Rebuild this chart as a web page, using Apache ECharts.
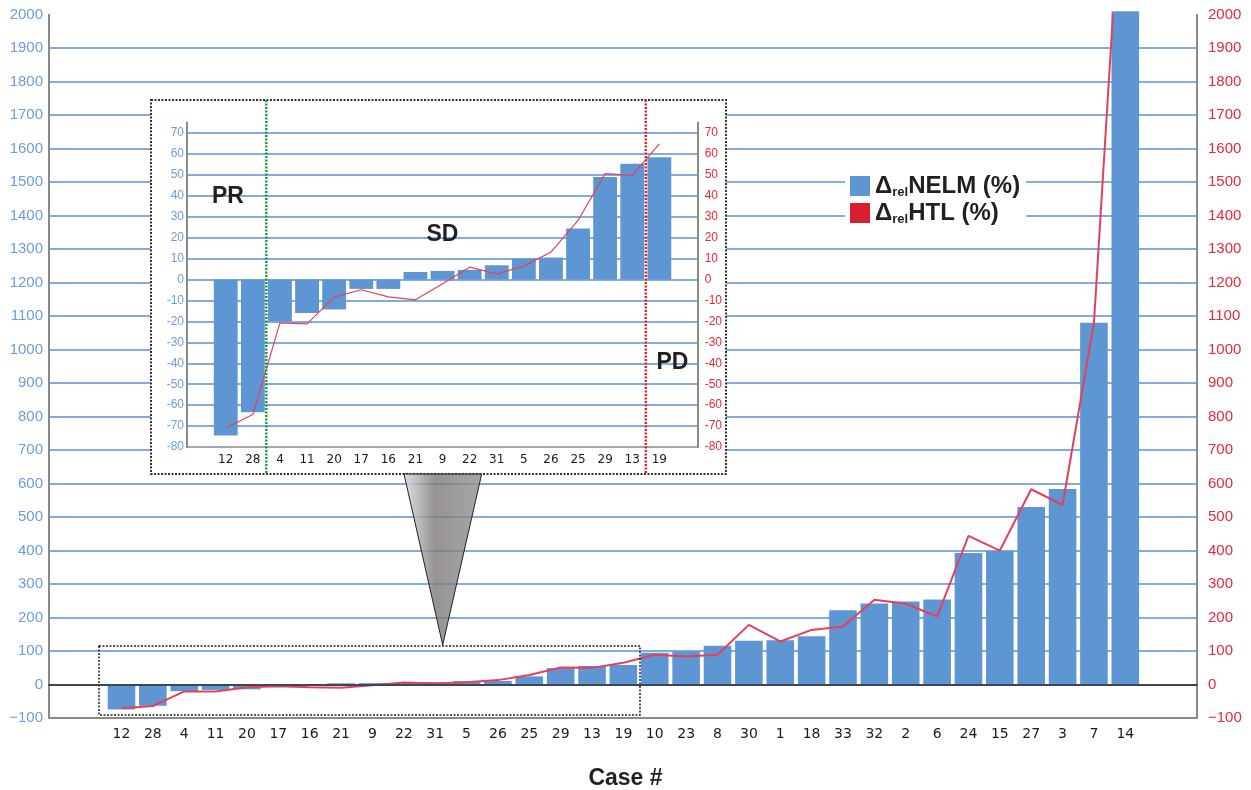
<!DOCTYPE html>
<html><head><meta charset="utf-8">
<script src="https://cdn.jsdelivr.net/npm/echarts@6.0.0/dist/echarts.min.js"></script>
<style>html,body{margin:0;padding:0;background:#fff}#c{width:1251px;height:790px}</style>
</head><body><div id="c"></div>
<script>
// ---- data ----
const cases = ['12','28','4','11','20','17','16','21','9','22','31','5','26','25','29','13','19','10','23','8','30','1','18','33','32','2','6','24','15','27','3','7','14'];
const nelm = [-74.5,-63.4,-20,-16,-14.3,-4.5,-4.5,3.6,4.1,4.6,6.8,10,10.5,24.4,49,55.3,58.4,95,99,116,131,132,144,222,242,248,254,393,399,530,584,1080,2010];
const htl = [-70.9,-64.5,-20.7,-21.2,-8.4,-4.9,-8.3,-9.7,-2,5.9,2.7,6.4,13.1,28.2,50.6,49.7,64.8,89,84,89,178,128.5,163,173,253,241,203,444,400,583,536,1080,2600];
const insetCount = 17;
const mainTicks = {min:-100, max:2000, step:100};
const insetTicks = {min:-80, max:75, step:10};

const insetCases = cases.slice(0, insetCount);
const insetNelm = nelm.slice(0, insetCount);
const insetHtl = htl.slice(0, insetCount);

const BLUE_LBL = '#6c9dd8', RED_LBL = '#e8283c', GRID_BLUE = '#80ace0', AXIS_GRAY = '#8a8a8a';
const BAR = '#5e96d3', LINE_RED = '#e5405a', LEG_RED = '#d81e30';
const SANS = 'Liberation Sans, Arial, sans-serif';

const chart = echarts.init(document.getElementById('c'), null, {renderer:'canvas'});

function yAx(grid, pos, t, color, split, fs, z, minus) {
  return {
    gridIndex: grid, type:'value', position: pos, min:t.min, max:t.max, interval:t.step, z: z,
    axisLine:{show:true, onZero:false, lineStyle:{color:AXIS_GRAY, width:2}},
    axisTick:{show:false},
    axisLabel:{color:color, fontSize:fs, fontFamily:SANS, margin: pos==='left' ? (fs>13?6:3) : (fs>13?11:7),
      showMaxLabel: t.max % t.step === 0,
      formatter: v => minus ? String(v).replace('-', '\u2212') : String(v)},
    splitLine: split ? {show:true, showMinLine:false, showMaxLine:false, lineStyle:{color:GRID_BLUE, width:2}} : {show:false}
  };
}

const option = {
  animation:false,
  backgroundColor:'#fff',
  title:{text:'Case #', left:'center', top:762, textStyle:{fontSize:23, fontWeight:'bold', fontFamily:SANS, color:'#231f20'}},
  legend:{
    orient:'vertical', left:845, top:169, padding:[5,6,5,5], itemWidth:20, itemHeight:20, itemGap:2,
    backgroundColor:'#fff', z:10, selectedMode:false,
    data:[{name:'NELM', icon:'rect', itemStyle:{color:BAR}}, {name:'HTL', icon:'rect', itemStyle:{color:LEG_RED}}],
    formatter: n => '{d|\u0394}{s|rel}{d|' + n + ' (%)}',
    textStyle:{rich:{
      d:{fontSize:24, fontWeight:'bold', fontFamily:SANS, color:'#231f20', lineHeight:26},
      s:{fontSize:13, fontWeight:'bold', fontFamily:SANS, color:'#231f20', lineHeight:13, verticalAlign:'bottom'}
    }}
  },
  grid:[
    {left:49, top:14.7, width:1148, height:703.3},
    {left:105.8, top:14.7, width:1035.2, height:703.3},
    {left:187, top:122.5, width:510.7, height:324.5},
    {left:212.2, top:122.5, width:460.7, height:324.5}
  ],
  xAxis:[
    {gridIndex:0, type:'value', min:0, max:1, position:'bottom', z:1,
     axisLine:{show:true, onZero:false, lineStyle:{color:AXIS_GRAY, width:2}}, axisTick:{show:false}, axisLabel:{show:false}, splitLine:{show:false}},
    {gridIndex:0, type:'value', min:0, max:1, position:'top', z:4,
     axisLine:{show:true, onZero:true, lineStyle:{color:'#3d4654', width:2}}, axisTick:{show:false}, axisLabel:{show:false}, splitLine:{show:false}},
    {gridIndex:1, type:'category', data:cases, position:'bottom', z:1,
     axisLine:{show:false, onZero:false}, axisTick:{show:false},
     axisLabel:{color:'#1a1a1a', fontSize:14, fontFamily:'DejaVu Sans', margin:9, interval:0}},
    {gridIndex:2, type:'value', min:0, max:1, position:'bottom', z:6,
     axisLine:{show:true, onZero:false, lineStyle:{color:AXIS_GRAY, width:1.5}}, axisTick:{show:false}, axisLabel:{show:false}, splitLine:{show:false}},
    {gridIndex:3, type:'category', data:insetCases, position:'bottom', z:6,
     axisLine:{show:false, onZero:false}, axisTick:{show:false},
     axisLabel:{color:'#1a1a1a', fontSize:12, fontFamily:'DejaVu Sans', margin:7, interval:0}}
  ],
  yAxis:[
    yAx(0,'left',mainTicks,BLUE_LBL,true,15,0,true),
    yAx(0,'right',mainTicks,RED_LBL,false,15,0,true),
    {gridIndex:1, type:'value', min:mainTicks.min, max:mainTicks.max, show:false},
    yAx(2,'left',insetTicks,BLUE_LBL,true,12,6,false),
    yAx(2,'right',insetTicks,RED_LBL,false,12,6,false),
    {gridIndex:3, type:'value', min:insetTicks.min, max:insetTicks.max, show:false}
  ],
  series:[
    {name:'NELM', type:'bar', xAxisIndex:2, yAxisIndex:2, data:nelm, barCategoryGap:'12%', clip:false, z:2,
     itemStyle:{color:BAR}},
    {name:'HTL', type:'line', xAxisIndex:2, yAxisIndex:2, data:htl, showSymbol:false, symbol:'none', z:3,
     itemStyle:{color:LEG_RED}, lineStyle:{color:LINE_RED, width:2}},
    {name:'insetNELM', type:'bar', xAxisIndex:4, yAxisIndex:5, data:insetNelm, barCategoryGap:'12%', z:7,
     itemStyle:{color:BAR}},
    {name:'insetHTL', type:'line', xAxisIndex:4, yAxisIndex:5, data:insetHtl, showSymbol:false, symbol:'none', z:8,
     itemStyle:{color:LEG_RED}, lineStyle:{color:LINE_RED, width:1.2}}
  ],
  graphic:[
    {type:'rect', z:5, shape:{x:151, y:100, width:575, height:374},
     style:{fill:'#fff', stroke:'#333', lineWidth:2, lineDash:[2,1.5]}},
    {type:'polygon', z:5, shape:{points:[[404,474],[481.7,474],[442.7,645]]},
     style:{stroke:'#222', lineWidth:1,
       fill:{type:'linear', x:0, y:0, x2:1, y2:0, colorStops:[
         {offset:0, color:'rgba(220,220,220,0.85)'},
         {offset:0.4, color:'rgba(125,120,120,0.8)'},
         {offset:1, color:'rgba(145,145,145,0.8)'}]}}},
    {type:'rect', z:4, shape:{x:99, y:646, width:541, height:69},
     style:{fill:null, stroke:'#222', lineWidth:1.5, lineDash:[2,1.5]}},
    {type:'line', z:9, shape:{x1:266.3, y1:100, x2:266.3, y2:474},
     style:{stroke:'#1f9a3c', lineWidth:2.5, lineDash:[2,1.5]}},
    {type:'line', z:9, shape:{x1:645.8, y1:100, x2:645.8, y2:474},
     style:{stroke:'#e5252a', lineWidth:2.5, lineDash:[2,1.5]}},
    {type:'text', z:9, style:{text:'PR', x:228, y:197, align:'center', verticalAlign:'middle', fontSize:23, fontWeight:'bold', fontFamily:SANS, fill:'#231f20'}},
    {type:'text', z:9, style:{text:'SD', x:442.5, y:235, align:'center', verticalAlign:'middle', fontSize:23, fontWeight:'bold', fontFamily:SANS, fill:'#231f20'}},
    {type:'text', z:9, style:{text:'PD', x:672.5, y:363, align:'center', verticalAlign:'middle', fontSize:23, fontWeight:'bold', fontFamily:SANS, fill:'#231f20'}}
  ]
};
chart.setOption(option);
</script></body></html>
